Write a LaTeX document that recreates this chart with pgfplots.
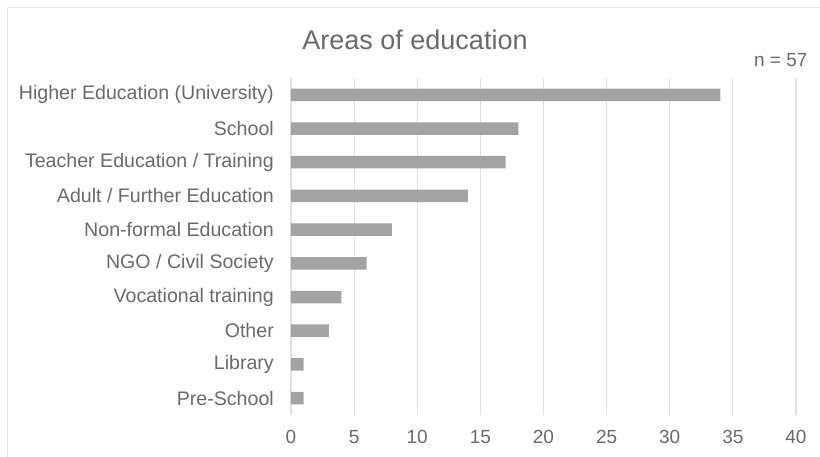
\documentclass[border=0pt]{standalone}
\usepackage{fontspec}
\setmainfont{Liberation Sans}
\usepackage{pgfplots}
\pgfplotsset{compat=1.18}
\definecolor{txt}{HTML}{6A6A6A}
\definecolor{barc}{HTML}{A3A3A3}
\definecolor{gridc}{HTML}{E0E0E0}
\begin{document}
\begin{tikzpicture}[x=1pt,y=1pt]
\path[use as bounding box] (0,0) rectangle (820,457);
\draw[gridc!80, line width=1pt] (7,0) -- (7,449) -- (820,449);
\node[txt, font=\fontsize{27}{32}\selectfont] at (415,417) {Areas of education};
\node[txt, font=\fontsize{19}{22}\selectfont, anchor=east] at (811,397) {n = 57};
\begin{axis}[
  at={(291pt,42pt)}, anchor=south west,
  scale only axis, width=505pt, height=337pt,
  xbar, bar width=12.5pt,
  xmin=0, xmax=40, ymin=-0.5, ymax=9.5,
  xtick={0,5,...,40},
  ytick={0,...,9},
  yticklabels={Pre-School,Library,Other,Vocational training,NGO / Civil Society,Non-formal Education,Adult / Further Education,Teacher Education / Training,School,Higher Education (University)},
  axis line style={draw=none},
  major tick length=0pt,
  xmajorgrids, grid style={gridc, line width=1.2pt},
  xticklabel style={txt, font=\fontsize{19}{22}\selectfont, inner sep=0pt, yshift=-15pt},
  yticklabel style={txt, font=\fontsize{19.6}{22}\selectfont, inner sep=0pt, xshift=-17pt},
  /pgf/number format/assume math mode=true,
  clip=false,
]
\addplot[fill=barc, draw=none] coordinates {
(1,0) (1,1) (3,2) (4,3) (6,4) (8,5) (14,6) (17,7) (18,8) (34,9)};
\end{axis}
\end{tikzpicture}
\end{document}
